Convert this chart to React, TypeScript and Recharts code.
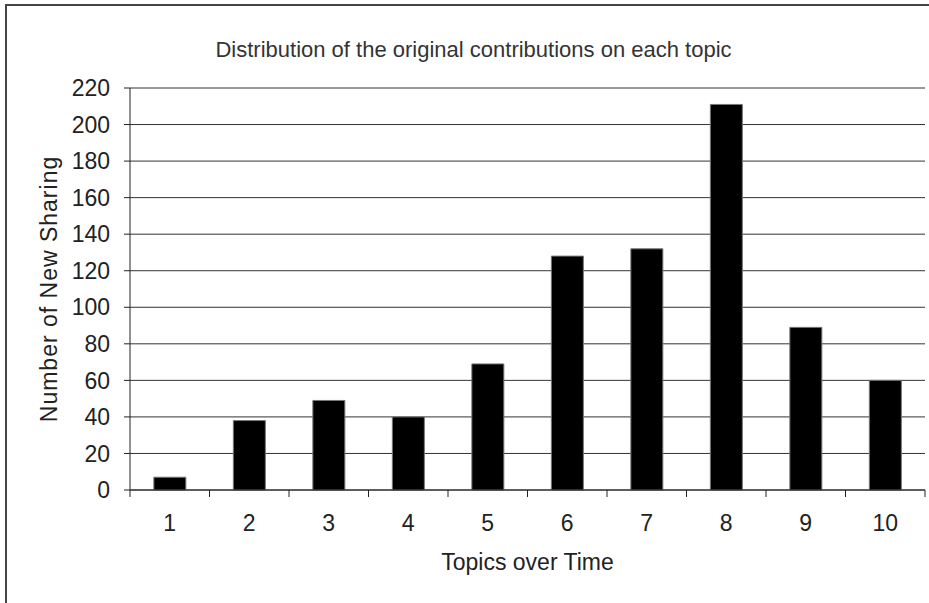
import { BarChart, Bar, XAxis, YAxis, CartesianGrid } from 'recharts';

// topics along the x axis
const topics = ['1', '2', '3', '4', '5', '6', '7', '8', '9', '10'];
// number of new sharing per topic
const newSharing = [7, 38, 49, 40, 69, 128, 132, 211, 89, 60];
const yTicks = [0, 20, 40, 60, 80, 100, 120, 140, 160, 180, 200, 220];

const data = topics.map((topic, i) => ({ topic, count: newSharing[i] }));

const FONT = '"Liberation Sans", Arial, sans-serif';
const INK = '#222';
const X_TICK_SIZE = 7;
const X_TICK_MARGIN = 18;

// x tick: label at band centre, tick marks at band edges
function EdgeTick(props: any) {
  const { x, y, payload, index, visibleTicksCount, width } = props;
  const half = payload.offset ?? width / topics.length / 2;
  const top = y - X_TICK_SIZE - X_TICK_MARGIN;
  return (
    <g>
      <line x1={x - half} x2={x - half} y1={top} y2={top + X_TICK_SIZE} stroke={INK} />
      {index === visibleTicksCount - 1 && (
        <line x1={x + half} x2={x + half} y1={top} y2={top + X_TICK_SIZE} stroke={INK} />
      )}
      <text x={x} y={y} dy="0.71em" textAnchor="middle" fill={INK} fontSize={23} fontFamily={FONT}>
        {payload.value}
      </text>
    </g>
  );
}

export default function App() {
  return (
    <div
      style={{
        position: 'absolute',
        left: 0,
        top: 0,
        width: 929,
        height: 603,
        background: '#fff',
        fontFamily: FONT,
        overflow: 'hidden',
      }}
    >
      {/* outer frame, cropped on the right and bottom */}
      <div
        style={{
          position: 'absolute',
          left: 5,
          top: 4,
          width: 940,
          height: 620,
          borderTop: '2px solid #444',
          borderLeft: '2px solid #444',
        }}
      />
      <div
        style={{
          position: 'absolute',
          left: 0,
          top: 37,
          width: 947,
          textAlign: 'center',
          fontSize: 22,
          color: '#333',
        }}
      >
        Distribution of the original contributions on each topic
      </div>
      <BarChart
        width={929}
        height={603}
        data={data}
        margin={{ top: 88, right: 4, bottom: 23, left: 0 }}
        barCategoryGap="30%"
        style={{ position: 'absolute', left: 0, top: 0 }}
      >
        <CartesianGrid vertical={false} stroke="#333" />
        <XAxis
          dataKey="topic"
          height={90}
          axisLine={{ stroke: INK }}
          tickLine={false}
          tickSize={X_TICK_SIZE}
          tickMargin={X_TICK_MARGIN}
          interval={0}
          tick={<EdgeTick />}
          label={{
            value: 'Topics over Time',
            position: 'insideBottom',
            offset: 10,
            fontSize: 23,
            fill: INK,
            fontFamily: FONT,
          }}
        />
        <YAxis
          domain={[0, 220]}
          ticks={yTicks}
          interval={0}
          width={130}
          axisLine={{ stroke: INK }}
          tickLine={{ stroke: INK }}
          tickSize={6}
          tickMargin={14}
          tick={{ fill: INK, fontSize: 23, fontFamily: FONT }}
          label={{
            value: 'Number of New Sharing',
            angle: -90,
            position: 'center',
            dx: -16,
            fontSize: 23,
            letterSpacing: 1,
            fill: INK,
            fontFamily: FONT,
          }}
        />
        <YAxis
          yAxisId="frame"
          orientation="right"
          width={0}
          tick={false}
          tickLine={false}
          axisLine={{ stroke: '#999' }}
        />
        <Bar dataKey="count" fill="#000" stroke="#777" strokeWidth={1} isAnimationActive={false} />
      </BarChart>
    </div>
  );
}
